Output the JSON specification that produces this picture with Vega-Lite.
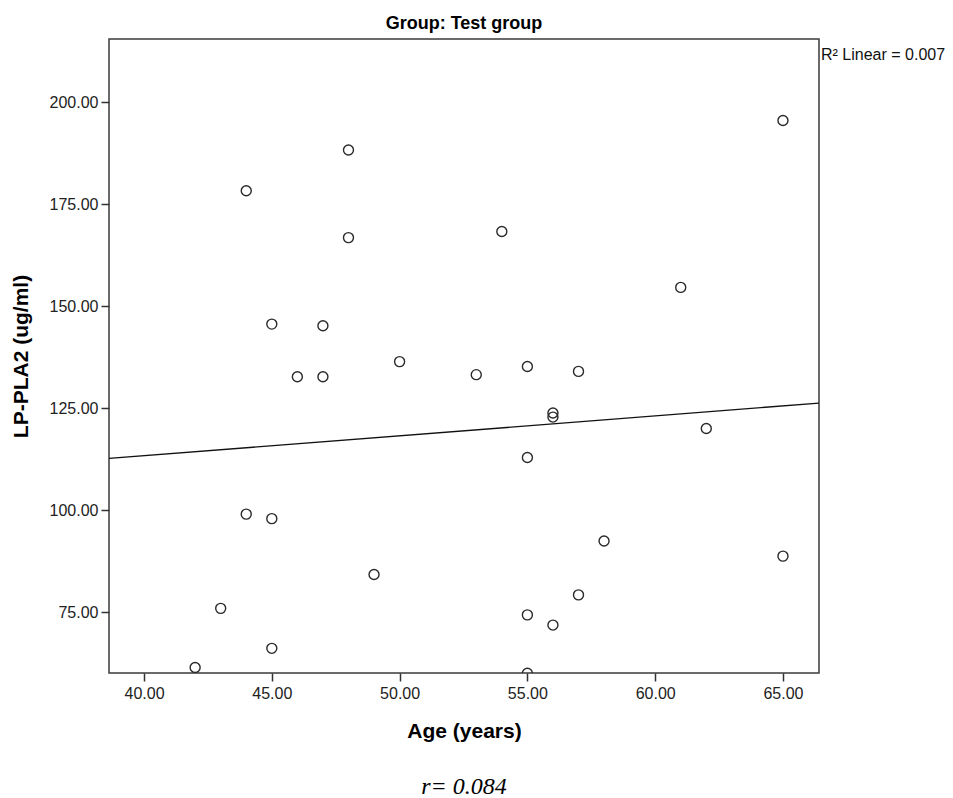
{
  "$schema": "https://vega.github.io/schema/vega-lite/v6.json",
  "width": 710,
  "height": 634,
  "autosize": "none",
  "padding": {"left": 109, "top": 39, "right": 134, "bottom": 125},
  "background": "white",
  "config": {
    "view": {"stroke": "#3a3a3a", "strokeWidth": 1.5},
    "font": "Liberation Sans"
  },
  "title": {
    "text": "Group: Test group",
    "fontSize": 18,
    "fontWeight": "bold",
    "font": "Liberation Sans",
    "color": "#000000",
    "anchor": "middle",
    "offset": 6
  },
  "datasets": {
    "pts": [
      {"age": 42, "lp": 61.4},
      {"age": 43, "lp": 75.9},
      {"age": 44, "lp": 178.3},
      {"age": 44, "lp": 99.0},
      {"age": 45, "lp": 145.6},
      {"age": 45, "lp": 97.9},
      {"age": 45, "lp": 66.1},
      {"age": 46, "lp": 132.7},
      {"age": 47, "lp": 145.2},
      {"age": 47, "lp": 132.7},
      {"age": 48, "lp": 188.3},
      {"age": 48, "lp": 166.8},
      {"age": 49, "lp": 84.2},
      {"age": 50, "lp": 136.4},
      {"age": 53, "lp": 133.2},
      {"age": 54, "lp": 168.3},
      {"age": 55, "lp": 135.2},
      {"age": 55, "lp": 112.9},
      {"age": 55, "lp": 74.3},
      {"age": 55, "lp": 60.0},
      {"age": 56, "lp": 123.8},
      {"age": 56, "lp": 122.8},
      {"age": 56, "lp": 71.8},
      {"age": 57, "lp": 134.0},
      {"age": 57, "lp": 79.2},
      {"age": 58, "lp": 92.4},
      {"age": 61, "lp": 154.6},
      {"age": 62, "lp": 120.0},
      {"age": 65, "lp": 195.5},
      {"age": 65, "lp": 88.7}
    ]
  },
  "layer": [
    {
      "data": {"name": "pts"},
      "mark": {"type": "point", "shape": "circle", "filled": false, "size": 100, "stroke": "#2a2a2a", "strokeWidth": 1.4, "opacity": 1, "clip": true},
      "encoding": {
        "x": {
          "field": "age", "type": "quantitative",
          "scale": {"domain": [38.63, 66.41], "nice": false, "zero": false},
          "axis": {
            "title": "Age (years)", "values": [40, 45, 50, 55, 60, 65], "format": ".2f",
            "grid": false, "domain": false, "tickColor": "#333333", "tickSize": 8, "tickWidth": 1.5,
            "labelFontSize": 16, "labelColor": "#222222", "labelPadding": 4,
            "titleFontSize": 21, "titleFontWeight": "bold", "titleColor": "#000000", "titlePadding": 19
          }
        },
        "y": {
          "field": "lp", "type": "quantitative",
          "scale": {"domain": [60.05, 215.5], "nice": false, "zero": false},
          "axis": {
            "title": "LP-PLA2 (ug/ml)", "values": [75, 100, 125, 150, 175, 200], "format": ".2f",
            "grid": false, "domain": false, "tickColor": "#333333", "tickSize": 8, "tickWidth": 1.5,
            "labelFontSize": 16, "labelColor": "#222222", "labelPadding": 3,
            "titleFontSize": 21, "titleFontWeight": "bold", "titleColor": "#000000", "titlePadding": 18
          }
        }
      }
    },
    {
      "data": {"name": "pts"},
      "transform": [{"regression": "lp", "on": "age", "extent": [38.63, 66.41]}],
      "mark": {"type": "line", "color": "#111111", "strokeWidth": 1.4, "clip": true},
      "encoding": {
        "x": {"field": "age", "type": "quantitative"},
        "y": {"field": "lp", "type": "quantitative"}
      }
    },
    {
      "data": {"values": [{"label": "R² Linear = 0.007"}]},
      "mark": {"type": "text", "align": "left", "baseline": "top", "dx": 2, "dy": 8, "fontSize": 16, "font": "Liberation Sans", "color": "#111111", "clip": false},
      "encoding": {
        "text": {"field": "label", "type": "nominal"},
        "x": {"datum": 66.41, "type": "quantitative"},
        "y": {"datum": 215.5, "type": "quantitative"}
      }
    },
    {
      "data": {"values": [{"label": "r= 0.084"}]},
      "mark": {"type": "text", "align": "center", "baseline": "middle", "fontSize": 24, "font": "Liberation Serif", "fontStyle": "italic", "color": "#000000", "clip": false},
      "encoding": {
        "text": {"field": "label", "type": "nominal"},
        "x": {"datum": 52.52, "type": "quantitative"},
        "y": {"datum": 32.2, "type": "quantitative"}
      }
    }
  ]
}
